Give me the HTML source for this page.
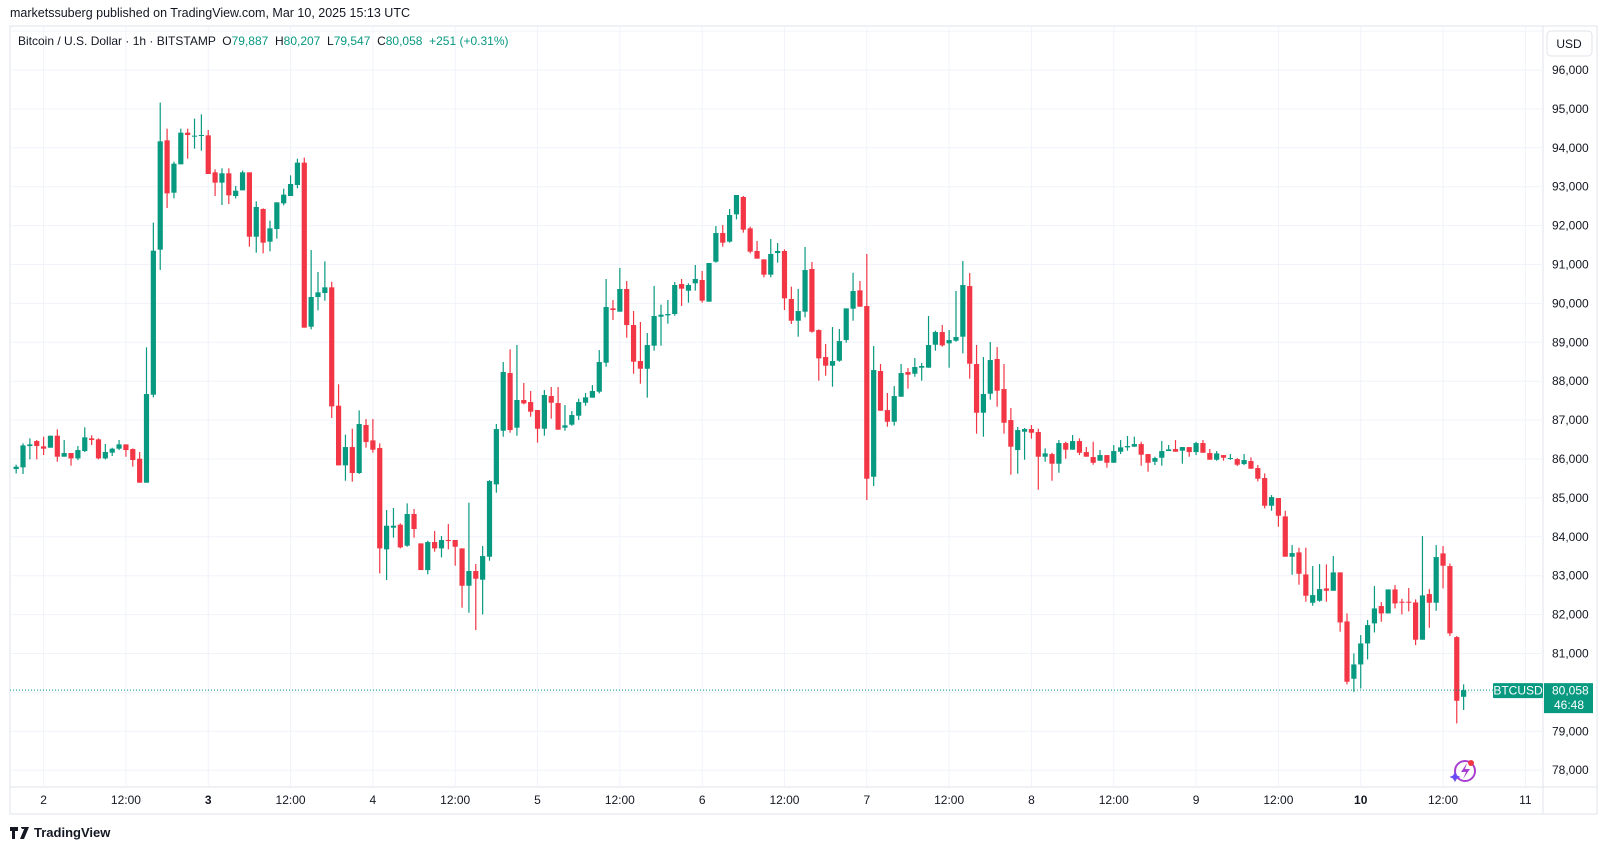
<!DOCTYPE html>
<html><head><meta charset="utf-8">
<style>
html,body{margin:0;padding:0;background:#fff;}
body{width:1607px;height:849px;overflow:hidden;position:relative;font-family:"Liberation Sans",sans-serif;color:#131722;}
#title{position:absolute;left:10px;top:6px;font-size:12.5px;}
#legend{position:absolute;left:18px;top:34px;font-size:12px;}
#legend .v{color:#089981;}
#chart{position:absolute;left:0;top:0;}
#logo{position:absolute;left:10px;top:825px;font-size:13px;font-weight:bold;display:flex;align-items:center;gap:4px;}
</style></head>
<body>
<svg id="chart" width="1607" height="849"></svg>
<div id="title">marketssuberg published on TradingView.com, Mar 10, 2025 15:13 UTC</div>
<div id="legend">Bitcoin / U.S. Dollar · 1h · BITSTAMP &nbsp;O<span class="v">79,887</span> &nbsp;H<span class="v">80,207</span> &nbsp;L<span class="v">79,547</span> &nbsp;C<span class="v">80,058</span> &nbsp;<span class="v">+251 (+0.31%)</span></div>
<div id="logo"><svg width="20" height="12" viewBox="0 0 20 12"><path d="M0 0h8v4H5v8H2V4H0z M11 0a2 2 0 1 1 0 .01z M15 0h4l-5 12h-4z" fill="#131722"/></svg>TradingView</div>
<script>
const opens=[85742,85785,86333,86462,86325,86290,86599,86059,86153,86016,86204,86531,86505,86016,86162,86265,86376,86256,86007,85391,87653,91381,94192,92846,93575,94389,94286,94312,94320,93369,93104,93344,92761,92906,93369,91715,92427,91587,91912,92572,92761,93044,93618,89401,90164,90267,90413,87370,85836,86307,85640,86873,86479,86282,83677,84234,84311,83771,84585,83831,83145,83865,83702,83917,83917,83702,82742,83120,82897,83488,85348,86727,88210,86805,87516,87464,87259,86779,87619,87438,86805,86882,87113,87447,87576,87730,88476,89873,89787,90370,89444,88518,88321,88913,89658,89693,89727,90498,90327,90516,90601,90044,91072,91809,91587,92289,92735,91929,91347,91132,90738,91295,91347,90113,89555,89787,90884,89315,88621,88398,88527,89058,89864,90335,89932,85544,88261,87258,86958,87601,88235,88192,88347,88347,88938,89264,88973,89041,89144,90446,88441,87190,87678,88570,87798,87001,86230,86701,86770,86693,86059,86127,85879,86410,86239,86461,86178,86050,85956,86101,85904,86187,86299,86316,86384,86127,85930,86033,86204,86256,86213,86307,86178,86410,86153,85981,86101,86007,85998,85870,85947,85767,85510,84799,84996,84525,83488,83599,83033,82305,82356,82673,82613,83085,81825,80351,80719,81259,81774,82219,82030,82647,82331,82331,82313,81354,82528,82305,83574,83248,81422,79887];
const highs=[85854,86402,86530,86488,86573,86599,86762,86488,86153,86333,86813,86608,86531,86385,86290,86488,86376,86273,86179,88870,92075,95160,94492,93643,94492,94492,94749,94861,94458,93446,93472,93472,93018,93412,93369,92624,92444,92127,92598,92949,93292,93721,93746,91372,90807,91081,90558,87919,86625,86779,87250,87027,87027,86402,84688,84740,84345,84860,84714,83831,83900,84148,84020,84328,83917,83702,84877,83300,83762,85459,86899,88493,88819,88930,87953,87747,87259,87773,87850,87850,87387,87233,87550,87696,87901,88801,90627,90087,90910,90575,89804,89521,89238,90447,89967,90087,90550,90627,90516,90987,90833,91038,91989,92015,92426,92786,92761,91972,91604,91132,91655,91552,91390,90430,90370,91450,91064,89332,88955,89392,89341,89872,90789,90575,91269,88904,88441,87696,87875,88441,88338,88595,88467,89675,89298,89444,89315,90318,91089,90780,88930,88621,89007,88878,88441,87310,86822,86796,86873,86779,86273,86161,86487,86444,86616,86530,86307,86444,86230,86101,86359,86487,86590,86573,86444,86127,86059,86461,86359,86487,86307,86307,86444,86487,86256,86204,86101,86127,86024,86127,86041,85844,85630,85073,84996,84670,83787,83719,83719,83248,83299,83291,83505,83085,82030,81002,81474,81859,82733,82322,82647,82759,82408,82682,82391,84019,82656,83787,83762,83316,81448,80207];
const lows=[85630,85614,85990,85990,86102,86290,85930,86059,85828,85973,86179,86359,85990,85990,86076,86230,86059,85802,85391,85391,87585,90858,92452,92701,93575,93721,93978,93926,93326,92761,92530,92555,92701,92906,91458,91304,91287,91338,91664,92521,92761,92958,89376,89333,89821,90070,87053,85836,85442,85417,85614,86290,86162,83060,82888,83977,83702,83745,83977,83145,83034,83617,83471,83676,83257,82177,82048,81603,82005,83385,85133,86573,86676,86599,87405,87088,86419,86599,87036,86753,86727,86856,87002,87370,87576,87687,88373,89573,89787,89118,88193,87936,87576,88784,88913,89478,89684,89933,90018,90327,90018,90044,91047,91458,91561,92160,91818,91287,91150,90670,90670,91047,89830,89470,89144,89641,89247,88013,88141,87858,88501,88990,89555,89915,84945,85304,87241,86830,86856,87601,87807,88115,88013,88347,88784,88887,88347,89015,88716,88064,86650,86573,87524,87344,86650,85596,85622,85981,86522,85210,85930,85441,85647,86007,86239,86101,86059,85853,85956,85776,85904,86127,86213,86316,85827,85673,85844,85827,86204,86187,85879,86059,86101,86161,85981,85956,85956,85981,85818,85844,85750,85424,84730,84670,84259,83488,83025,82768,82331,82228,82331,82331,82613,81560,80205,80017,80102,80848,81542,81816,82030,82159,82005,82082,81217,81354,81662,82099,82673,81448,79202,79547];
const closes=[85802,86350,86376,86333,86265,86599,86059,86153,86016,86230,86556,86488,86016,86179,86265,86376,86230,85973,85391,87670,91355,94166,92829,93592,94389,94329,94312,94329,93326,93104,93344,92778,92898,93369,91715,92478,91561,91930,92598,92795,93069,93618,89376,90164,90284,90413,87353,85836,86307,85640,86899,86436,86239,83702,84285,84285,83728,84585,84200,83145,83865,83702,83917,83900,83745,82742,83120,82922,83505,85433,86770,88236,86744,87516,87430,87216,86779,87645,87447,86753,86865,87130,87464,87585,87747,88493,89907,89830,90370,89444,88501,88321,88930,89676,89710,89727,90473,90378,90473,90627,90070,91038,91809,91561,92272,92786,91895,91330,91150,90738,91270,91347,90130,89555,89804,90858,89272,88587,88398,88518,89032,89872,90318,89915,85493,88287,87241,86958,87618,88209,88167,88364,88390,88930,89264,88921,89058,89135,90472,88450,87190,87670,88544,87755,86933,86316,86744,86770,86676,86059,86144,85879,86410,86239,86461,86161,86059,85904,86101,85904,86204,86299,86333,86384,86110,85904,86024,86204,86247,86187,86307,86178,86410,86161,85981,86144,86033,86024,85853,85973,85750,85493,84799,85021,84542,83488,83582,83050,82485,82502,82656,82613,83085,81799,80274,80719,81259,81731,82159,82030,82647,82287,82322,82313,81354,82493,82305,83479,83256,81517,79785,80058];
const priceTicks=[78000,79000,80000,81000,82000,83000,84000,85000,86000,87000,88000,89000,90000,91000,92000,93000,94000,95000,96000];
const timeLabels=["2","12:00","3","12:00","4","12:00","5","12:00","6","12:00","7","12:00","8","12:00","9","12:00","10","12:00","11"];
const firstHour=-4;
const lastPrice=80058;

const NS="http://www.w3.org/2000/svg";
const svg=document.getElementById('chart');
const PL=10,PR=1543,PT=26,PB=787;
function y(p){return 70+(96000-p)/1000*38.9;}
function xh(h){return 43.6+h*6.86;}
function mk(tag,attrs,parent){const e=document.createElementNS(NS,tag);for(const k in attrs)e.setAttribute(k,attrs[k]);(parent||svg).appendChild(e);return e;}
const frame=mk('rect',{x:PL,y:PT,width:1597-PL,height:814-PT,fill:'none',stroke:'#e0e3eb'});


mk('line',{x1:PL,x2:1597,y1:PB,y2:PB,stroke:'#e0e3eb'});
mk('line',{x1:PR,x2:PR,y1:PT,y2:814,stroke:'#e0e3eb'});
const grid=mk('g',{});


mk('line',{x1:PL,x2:PR,y1:y(97000),y2:y(97000),stroke:'#f0f3fa'},grid);
priceTicks.forEach(p=>{
  mk('line',{x1:PL,x2:PR,y1:y(p),y2:y(p),stroke:'#f0f3fa'},grid);
  const t=mk('text',{x:1552,y:y(p)+4,'font-size':'12',fill:'#131722','font-family':'Liberation Sans, sans-serif'});
  t.textContent=p.toLocaleString('en-US');
  
  
});
timeLabels.forEach((l,i)=>{
  const x=xh(i*12);
  mk('line',{x1:x,x2:x,y1:PT,y2:PB,stroke:'#f0f3fa'},grid);
  const bold=(l==='3'||l==='10');
  const t=mk('text',{x:x,y:804,'font-size':'12','text-anchor':'middle',fill:'#131722','font-weight':bold?'bold':'normal','font-family':'Liberation Sans, sans-serif'});
  t.textContent=l;
  
  
});
const cg=mk('g',{});


closes.forEach((c,i)=>{
  const o=opens[i],h=highs[i],l=lows[i];
  const x=xh(firstHour+i);
  const col=c>=o?'#089981':'#f23645';
  const g=mk('g',{},cg);
  
  
  mk('line',{x1:x,x2:x,y1:y(h),y2:y(l),stroke:col,'stroke-width':1.2},g);
  const top=y(Math.max(o,c)),bot=y(Math.min(o,c));
  mk('rect',{x:x-2.6,y:top,width:5.2,height:Math.max(1,bot-top),fill:col},g);
});
const ly=y(lastPrice);
const pl=mk('line',{x1:PL,x2:PR,y1:ly,y2:ly,stroke:'#089981','stroke-dasharray':'1 2'});


const sb=mk('g',{});


mk('rect',{x:1493,y:ly-7,width:50,height:15,fill:'#089981',rx:1},sb);
let t=mk('text',{x:1518,y:ly+4.5,'font-size':'12','text-anchor':'middle',fill:'#fff'},sb);t.textContent='BTCUSD';
mk('rect',{x:1544,y:ly-7,width:49,height:30,fill:'#089981'},sb);
t=mk('text',{x:1552,y:ly+4.5,'font-size':'12',fill:'#fff'},sb);t.textContent=lastPrice.toLocaleString('en-US');
t=mk('text',{x:1554,y:ly+19,'font-size':'12',fill:'#fff'},sb);t.textContent='46:48';
const ub=mk('g',{});


mk('rect',{x:1547,y:31,width:45,height:25,rx:4,fill:'#fff',stroke:'#e0e3eb'},ub);
t=mk('text',{x:1569,y:48,'font-size':'12','text-anchor':'middle',fill:'#131722'},ub);t.textContent='USD';
const ai=mk('g',{});


mk('circle',{cx:1465,cy:771,r:10,fill:'none',stroke:'#a93fd1','stroke-width':2},ai);
mk('path',{d:'M1467 763 L1461 772 L1466 772 L1463 779 L1470 769 L1465 769 Z',fill:'#a93fd1'},ai);
mk('circle',{cx:1471,cy:763,r:3,fill:'#f23645'},ai);
mk('path',{d:'M1455 772 l2 3.5 l3.5 1.5 l-3.5 1.5 l-2 3.5 l-2 -3.5 l-3.5 -1.5 l3.5 -1.5 z',fill:'#6a4cf5'},ai);
</script>
</body></html>
